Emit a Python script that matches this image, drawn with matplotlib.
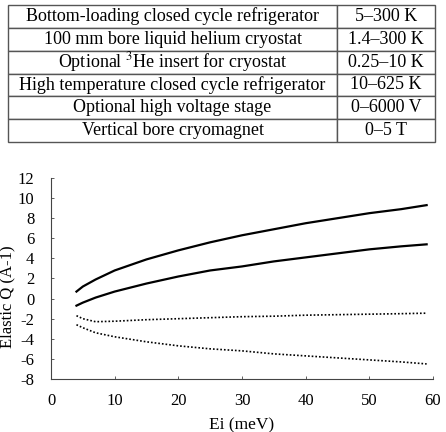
import numpy as np
import matplotlib.pyplot as plt

plt.rcParams["font.family"] = ["Liberation Serif", "DejaVu Serif"]
plt.rcParams["mathtext.fontset"] = "stix"
plt.rcParams["axes.unicode_minus"] = False

# table contents
equipment = [
    "Bottom-loading closed cycle refrigerator",
    "100 mm bore liquid helium cryostat",
    "Optional $^{3}$He insert for cryostat",
    "High temperature closed cycle refrigerator",
    "Optional high voltage stage",
    "Vertical bore cryomagnet",
]
ranges = ["5–300 K", "1.4–300 K", "0.25–10 K", "10–625 K", "0–6000 V", "0–5 T"]

# curves
ei = [4, 5, 7, 10, 15, 20, 25, 30, 35, 40, 45, 50, 55, 59]
q_solid_top = [0.7, 1.2, 1.9, 2.8, 3.9, 4.8, 5.6, 6.3, 6.9, 7.5, 8.0, 8.5, 8.9, 9.3]
q_solid_bot = [-0.7, -0.4, 0.1, 0.7, 1.5, 2.2, 2.8, 3.2, 3.7, 4.1, 4.5, 4.9, 5.2, 5.4]
q_dot_top = [-1.7, -2.0, -2.3, -2.25, -2.1, -2.0, -1.9, -1.8, -1.75, -1.65, -1.6, -1.55, -1.5, -1.45]
q_dot_bot = [-2.6, -2.9, -3.4, -3.8, -4.3, -4.7, -5.0, -5.2, -5.5, -5.7, -5.9, -6.1, -6.3, -6.5]

fig = plt.figure(figsize=(4.46, 4.32), dpi=100)

# table
tax = fig.add_axes([8 / 446, 1 - 142 / 432, 427 / 446, 137 / 432])
tax.axis("off")
tbl = tax.table(cellText=[[a, b] for a, b in zip(equipment, ranges)],
                colWidths=[329 / 427, 98 / 427], cellLoc="center", bbox=[0, 0, 1, 1])
tbl.auto_set_font_size(False)
for cell in tbl.get_celld().values():
    cell.set_fontsize(13)
    cell.set_edgecolor("#555555")
    cell.set_linewidth(1.0)

# plot
ax = fig.add_axes([51 / 446, 53 / 432, 382 / 446, 201 / 432])
ax.plot(ei, q_solid_top, color="black", lw=1.6)
ax.plot(ei, q_solid_bot, color="black", lw=1.6)
ax.plot(ei, q_dot_top, color="black", lw=1.2, ls=(0, (1, 1.2)))
ax.plot(ei, q_dot_bot, color="black", lw=1.2, ls=(0, (1, 1.2)))

ax.set_xlim(0, 60)
ax.set_ylim(-8, 12)
ax.set_xticks(np.arange(0, 61, 10))
ax.set_yticks(np.arange(-8, 13, 2))
for side in ["top", "right"]:
    ax.spines[side].set_visible(False)
for side in ["left", "bottom"]:
    ax.spines[side].set_color("#444444")
ax.tick_params(direction="in", length=2, width=0.6, colors="#444444", labelcolor="black",
               labelsize=12)
ax.tick_params(axis="y", pad=12)
ax.tick_params(axis="x", pad=10)
ax.set_xlabel("Ei (meV)", fontsize=12.5, labelpad=6)
ax.set_ylabel("Elastic Q (A-1)", fontsize=12)
ax.yaxis.set_label_coords(-0.094, 0.41)

fig.savefig("out.png", dpi=100)
